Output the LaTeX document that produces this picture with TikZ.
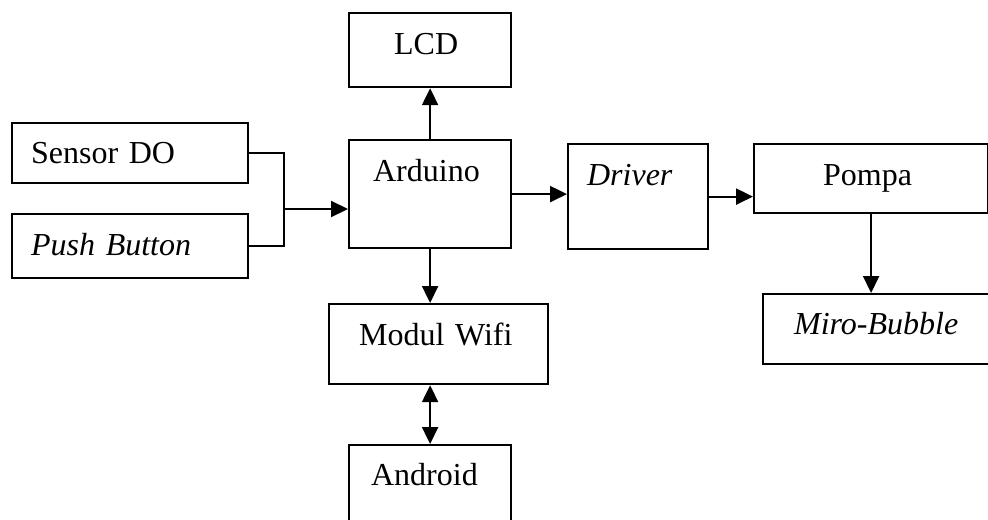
\documentclass[tikz,border=0pt]{standalone}
\usepackage{fontspec}
\setmainfont{Liberation Serif}
\usepackage{tikz}
\usetikzlibrary{arrows.meta, positioning, calc}

\tikzset{
  blok/.style={draw, line width=1.1pt, anchor=north west, inner ysep=0pt, align=left,
    font=\fontsize{16}{18}\selectfont},
  panah/.style={line width=1.1pt, -{Triangle[length=8.5pt, width=8pt]}},
  panahdua/.style={line width=1.1pt, {Triangle[length=8.5pt, width=8pt]}-{Triangle[length=8.5pt, width=8pt]}},
}

\begin{document}
\begin{tikzpicture}[x=0.5pt, y=-0.5pt]
  \useasboundingbox (0,0) rectangle (988,519);
  \clip (0,0) rectangle (988,519);

  % blok masukan
  \node[blok, text width=99pt, inner xsep=9.5pt, text height=20pt, text depth=10pt] (sensor) at (11,122) {Sensor DO};
  \node[blok, text width=99pt, inner xsep=9.5pt, text height=20.5pt, text depth=11.5pt] (tombol) at (11,213) {\textit{Push Button}};

  % blok utama
  \node[blok, text width=57pt, inner xsep=12pt, text height=20.5pt, text depth=33.5pt] (arduino) at (348,139) {Arduino};
  \node[blok, text width=36pt, inner xsep=22.5pt, text height=20.5pt, text depth=16.5pt] (lcd) at (348,12) {LCD};
  \node[blok, text width=51pt, inner xsep=9.5pt, text height=20.5pt, text depth=32pt] (driver) at (567,143) {\textit{Driver}};
  \node[blok, text width=48pt, inner xsep=34.5pt, text height=20.5pt, text depth=14pt] (pompa) at (753,143) {Pompa};
  \node[blok, text width=88pt, inner xsep=15.5pt, text height=20pt, text depth=15pt] (bubble) at (762,293) {\textit{Miro-Bubble}};
  \node[blok, text width=79.5pt, inner xsep=15pt, text height=20.5pt, text depth=19.5pt] (wifi) at (328,303) {Modul Wifi};
  \node[blok, text width=59pt, inner xsep=11pt, text height=20pt, text depth=25.5pt] (android) at (348,444) {Android};

  % penghubung
  \coordinate (jn) at (284,209);
  \draw[line width=1.1pt] (sensor.east) -| (jn) |- (tombol.east);
  \draw[panah] (jn) -- (jn -| arduino.west);
  \draw[panah] (arduino.north) -- (lcd.south);
  \draw[panah] (arduino.east) -- (arduino.east -| driver.west);
  \draw[panah] (driver.east) -- (driver.east -| pompa.west);
  \draw[panah] (pompa.south) -- (pompa.south |- bubble.north);
  \draw[panah] (arduino.south) -- (arduino.south |- wifi.north);
  \draw[panahdua] (wifi.south -| android.north) -- (android.north);
\end{tikzpicture}
\end{document}
